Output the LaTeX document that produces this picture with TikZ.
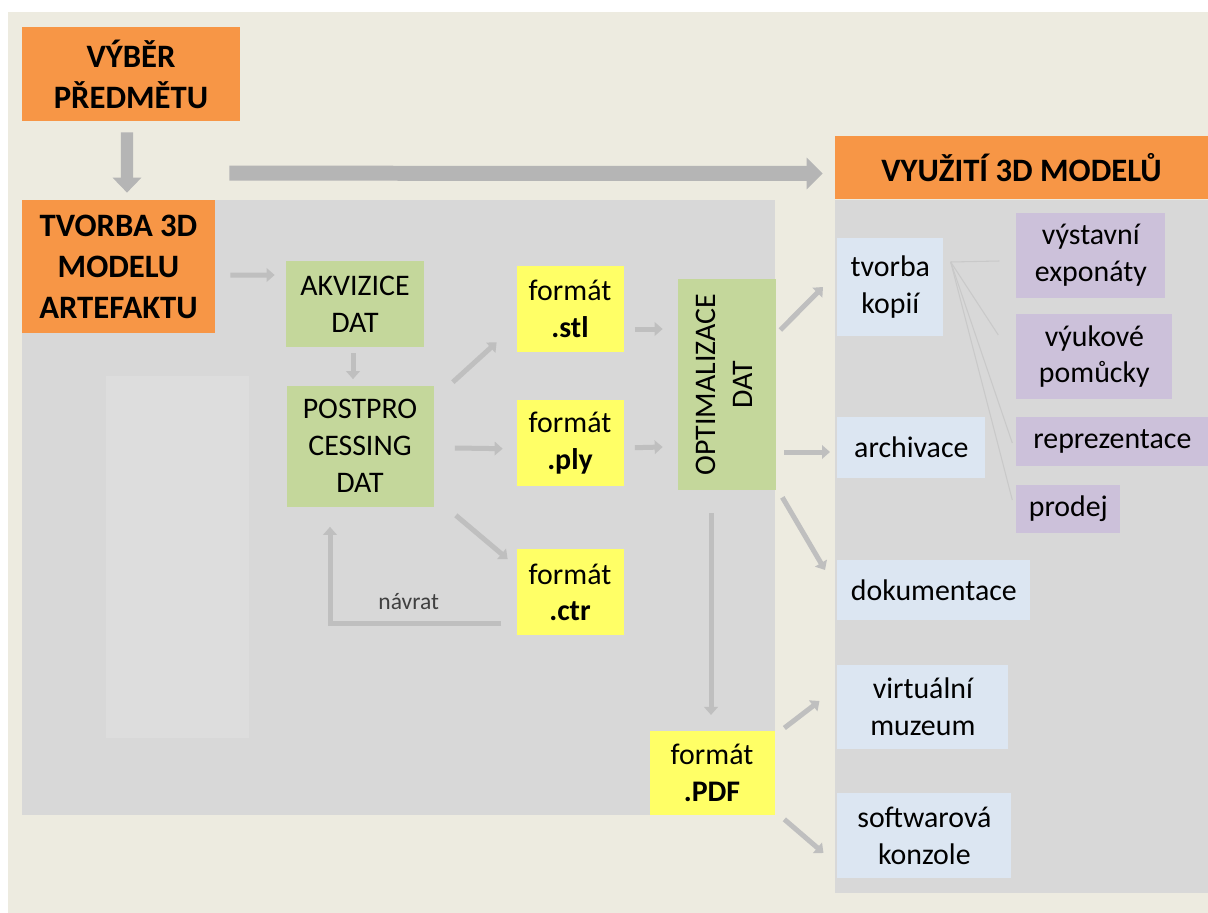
\documentclass[tikz,border=0pt]{standalone}
\usepackage{fontspec}
\setmainfont{Carlito}
\usepackage{graphicx}
\usepackage{xcolor}
\usetikzlibrary{positioning, arrows.meta, calc}

\definecolor{bgbeige}{RGB}{237,235,224}
\definecolor{panelgray}{RGB}{216,216,216}
\definecolor{innergray}{RGB}{221,221,221}
\definecolor{headorange}{RGB}{247,150,70}
\definecolor{stagegreen}{RGB}{196,215,155}
\definecolor{fmtyellow}{RGB}{255,255,102}
\definecolor{appblue}{RGB}{220,230,242}
\definecolor{subpurple}{RGB}{204,193,218}
\definecolor{arrowgray}{RGB}{191,191,191}
\definecolor{lblgray}{RGB}{64,64,64}

\newcommand{\pxu}{0.02cm}

\begin{document}
\begin{tikzpicture}[x=0.02cm, y=-0.02cm,
            box/.style={rectangle, inner sep=0pt, align=center, text=black, font=\fontsize{17}{21}\selectfont},
            sz/.style 2 args={minimum width=#1*\pxu, minimum height=#2*\pxu},
            headbox/.style={box, fill=headorange, font=\fontsize{18.6}{23.3}\selectfont\bfseries},
            stagebox/.style={box, fill=stagegreen},
            fmtbox/.style={box, fill=fmtyellow},
            appbox/.style={box, fill=appblue},
            subbox/.style={box, fill=subpurple},
            arr/.style={draw=arrowgray, line width=0.1cm, -{Triangle[length=0.16cm, width=0.27cm]}},
            bigarr/.style={draw=arrowgray!95!black, line width=0.3cm, -{Triangle[length=0.32cm, width=0.62cm]}},
            fanline/.style={draw=arrowgray!85, line width=0.6pt}]
    \useasboundingbox (0,0) rectangle (1208,913);

    % Background panels
    \fill[bgbeige] (8,12) rectangle (1208,913);
    \fill[panelgray] (22,200) rectangle (775,815);
    \fill[innergray] (106,376) rectangle (249,738);
    \fill[panelgray] (835,200) rectangle (1208,893);

    % Nodes
    \node[headbox, sz={218}{94}] (vyber) at (131,74) {VÝBĚR\\PŘEDMĚTU};
    \node[headbox, sz={193}{133}] (tvorba3d) at (118.5,266.5) {TVORBA 3D\\MODELU\\ARTEFAKTU};
    \node[headbox, sz={373}{63}] (vyuziti) at (1021.5,167.5) {VYUŽITÍ 3D MODELŮ};

    \node[stagebox, sz={138}{86}] (akvizice) at (355,304) {AKVIZICE\\DAT};
    \node[stagebox, sz={147}{121}] (postpro) at (360,446) {POSTPRO\\CESSING\\DAT};

    \node[fmtbox, sz={107}{86}] (stl) at (570,309) {formát\\\textbf{.stl}};
    \node[fmtbox, sz={107}{86}, below=0.94cm of stl] (ply) {formát\\\textbf{.ply}};
    \node[fmtbox, sz={107}{86}, below=1.26cm of ply] (ctr) {formát\\\textbf{.ctr}};

    \node[stagebox, sz={98}{211}] (optim) at (727,384.5)
        {\rotatebox{90}{\begin{tabular}{@{}c@{}}OPTIMALIZACE\\DAT\end{tabular}}};
    \node[fmtbox, sz={125}{84}] (pdf) at (712,773) {formát\\\textbf{.PDF}};

    \node[appbox, sz={106}{98}, anchor=west] (kopie) at (837,287) {tvorba\\kopií};
    \node[appbox, sz={148}{61}, anchor=west] (archivace) at (837,447.5) {archivace};
    \node[appbox, sz={193}{60}, anchor=west] (dokumentace) at (837,590) {dokumentace};
    \node[appbox, sz={171}{84}, anchor=west] (muzeum) at (837,707) {virtuální\\muzeum};
    \node[appbox, sz={174}{85}, anchor=west] (konzole) at (837,835.5) {softwarová\\konzole};

    \node[subbox, sz={149}{85}, anchor=west] (exponaty) at (1016,255.5) {výstavní\\exponáty};
    \node[subbox, sz={156}{85}, anchor=west] (pomucky) at (1016,356.5) {výukové\\pomůcky};
    \node[subbox, sz={192}{49}, anchor=west] (reprezentace) at (1016,441.5) {reprezentace};
    \node[subbox, sz={104}{48}, anchor=west] (prodej) at (1016,509) {prodej};

    % Edges
    \draw[bigarr, line width=0.25cm, -{Triangle[length=0.3cm, width=0.56cm]}]
        ($(vyber.south)+(-4,11)$) -- ($(tvorba3d.north)+(8.5,-7)$);
    \draw[bigarr] ($(tvorba3d.north east)+(14,-26.5)$) -- ($(vyuziti.west)+(-12,6)$);

    \draw[arr] ($(tvorba3d.east)+(15,8.5)$) -- ($(akvizice.west)+(-11,-29)$);
    \draw[arr] ($(akvizice.south)+(-2,6)$) -- ($(postpro.north)+(-7,-6)$);
    \draw[arr] ($(postpro.north east)+(19,-3)$) -- ($(stl.south west)+(-19.5,-10)$);
    \draw[arr] ($(postpro.east)+(21,2)$) -- ($(ply.west)+(-13.5,6)$);
    \draw[arr] ($(postpro.south east)+(22,8.5)$) -- ($(ctr.north west)+(-8.5,10)$);
    \draw[arr] ($(ctr.west)+(-15,31)$) -| ($(postpro.south)+(-30,20)$)
        node[pos=0.27, yshift=0.44cm, text=lblgray, font=\fontsize{13.4}{16}\selectfont] {návrat};

    \draw[arr] ($(stl.east)+(11,20)$) -- ($(optim.west)+(-15,-55.5)$);
    \draw[arr] ($(ply.east)+(11,5)$) -- ($(optim.west)+(-15,62.5)$);
    \draw[arr] ($(optim.east)+(4,-54.5)$) -- ($(kopie.west)+(-14,0)$);
    \draw[arr] ($(optim.east)+(8,67.5)$) -- ($(archivace.west)+(-7,4.5)$);
    \draw[arr] ($(optim.south east)+(6,7)$) -- ($(dokumentace.west)+(-12,-20)$);
    \draw[arr] ($(optim.south)+(-16,23)$) -- ($(pdf.north)+(-1,-15.7)$);
    \draw[arr] ($(pdf.east)+(9.5,-45)$) -- ($(muzeum.west)+(-17.5,-6)$);
    \draw[arr] ($(pdf.south east)+(9.5,4)$) -- ($(konzole.west)+(-13.5,17.5)$);

    % Fan from tvorba kopii
    \coordinate (fan) at ($(kopie.east)+(7,-25)$);
    \draw[fanline] (fan) -- ($(exponaty.west)+(-16.6,5.5)$);
    \draw[fanline] (fan) -- ($(pomucky.west)+(-17.7,-21.5)$);
    \draw[fanline] (fan) -- ($(reprezentace.west)+(-3.7,1.5)$);
    \draw[fanline] (fan) -- ($(prodej.west)+(-3.7,-9)$);
\end{tikzpicture}
\end{document}
